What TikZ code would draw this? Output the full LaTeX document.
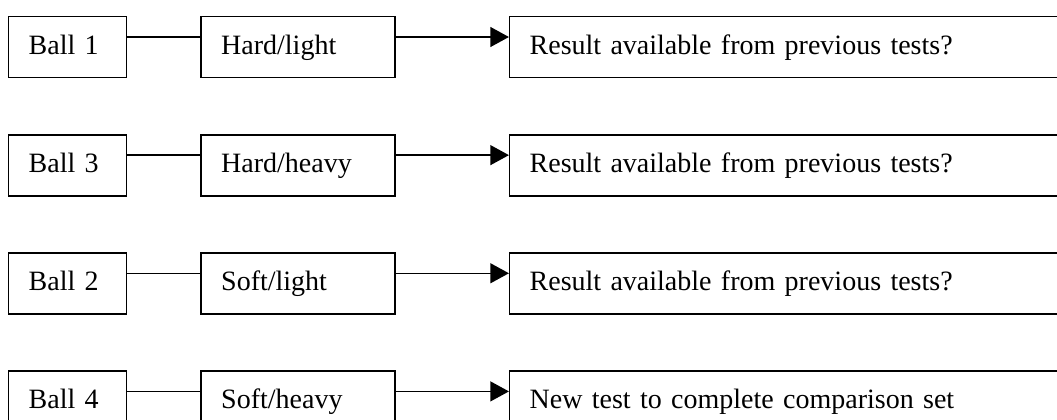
\documentclass[tikz,border=0pt]{standalone}
\usepackage{fontspec}
\setmainfont{Liberation Serif}
\usetikzlibrary{positioning,arrows.meta}
\tikzset{
  bx/.style = {draw, line width=1.1pt, minimum height=45.75pt, inner xsep=15pt,
               inner ysep=0pt, align=left, text height=15pt, text depth=4pt,
               font=\fontsize{21}{25}\selectfont},
  bb/.style = {bx, text width=58.5pt},
  bh/.style = {bx, text width=115.5pt},
  br/.style = {bx, text width=390pt},
  ln/.style = {line width=1.1pt},
  ar/.style = {ln, -{Triangle[length=14pt,width=15pt]}},
}

\begin{document}
\begin{tikzpicture}
\useasboundingbox (0,0) rectangle (792.75pt,-314.25pt);

% ---- balls
\node[bb, anchor=north west] (ball1) at (6pt,-12pt) {Ball 1};
\node[bb, below=41.75pt of ball1] (ball3) {Ball 3};
\node[bb, below=41.75pt of ball3] (ball2) {Ball 2};
\node[bb, below=41.75pt of ball2] (ball4) {Ball 4};

% ---- ball types
\node[bh, right=54.75pt of ball1] (hlight) {Hard/light};
\node[bh, right=54.75pt of ball3] (hheavy) {Hard/heavy};
\node[bh, right=54.75pt of ball2] (slight) {Soft/light};
\node[bh, right=54.75pt of ball4] (sheavy) {Soft/heavy};

% ---- outcome
\node[br, right=84.75pt of hlight] (res1) {Result available from previous tests?};
\node[br, right=84.75pt of hheavy] (res3) {Result available from previous tests?};
\node[br, right=84.75pt of slight] (res2) {Result available from previous tests?};
\node[br, right=84.75pt of sheavy] (res4) {New test to complete comparison set};

% ---- links
\draw[ln] ([yshift=-15.75pt]ball1.north east) -- ([yshift=-15.75pt]hlight.north west);
\draw[ln] ([yshift=-15.75pt]ball3.north east) -- ([yshift=-15.75pt]hheavy.north west);
\draw[ln] ([yshift=-15.75pt]ball2.north east) -- ([yshift=-15.75pt]slight.north west);
\draw[ln] ([yshift=-15.75pt]ball4.north east) -- ([yshift=-15.75pt]sheavy.north west);

\draw[ar] ([yshift=-15.75pt]hlight.north east) -- ([yshift=-15.75pt]hlight.north east -| res1.west);
\draw[ar] ([yshift=-15.75pt]hheavy.north east) -- ([yshift=-15.75pt]hheavy.north east -| res3.west);
\draw[ar] ([yshift=-15.75pt]slight.north east) -- ([yshift=-15.75pt]slight.north east -| res2.west);
\draw[ar] ([yshift=-15.75pt]sheavy.north east) -- ([yshift=-15.75pt]sheavy.north east -| res4.west);

\end{tikzpicture}
\end{document}
